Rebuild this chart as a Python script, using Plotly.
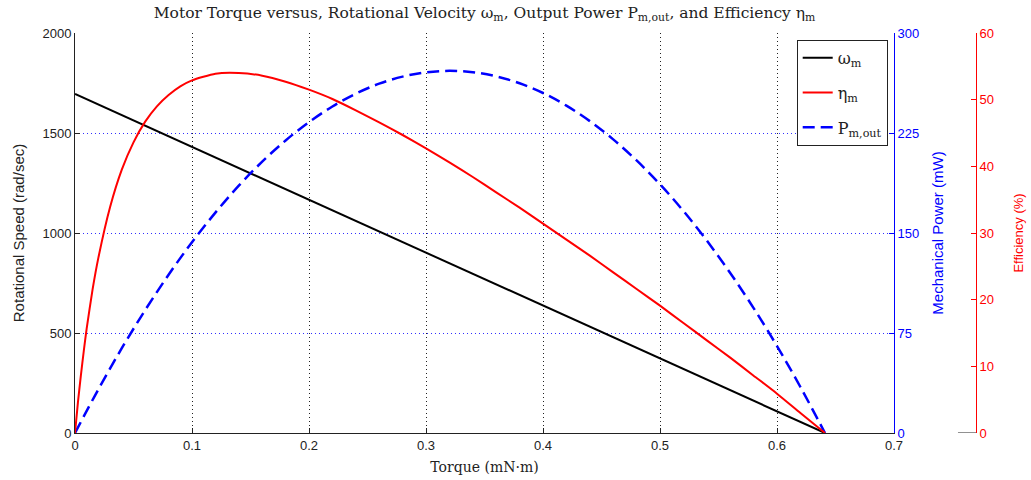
import plotly.graph_objects as go

# Motor characteristic curves versus shaft torque (mN·m)
speed_torque = [0.0, 0.641]
speed_rad_s = [1695, 0]

power_torque = [0.0, 0.02, 0.04, 0.06, 0.08, 0.10, 0.12, 0.14, 0.16, 0.18, 0.20,
                0.22, 0.24, 0.26, 0.28, 0.30, 0.32, 0.34, 0.36, 0.38, 0.40, 0.42,
                0.44, 0.46, 0.48, 0.50, 0.52, 0.54, 0.56, 0.58, 0.60, 0.62, 0.641]
power_mw = [0.0, 32.8, 63.6, 92.2, 118.7, 143.1, 165.3, 185.5, 203.5, 219.4, 233.2,
            244.9, 254.5, 262.0, 267.3, 270.5, 271.6, 270.6, 267.5, 262.3, 255.0, 245.5,
            233.9, 220.2, 204.4, 186.5, 166.5, 144.3, 120.0, 93.7, 65.2, 34.5, 0.0]

eff_torque = [0.0, 0.0025, 0.005, 0.0075, 0.01, 0.015, 0.02, 0.03, 0.04, 0.05, 0.06,
              0.07, 0.08, 0.09, 0.10, 0.12, 0.14, 0.16, 0.18, 0.20, 0.22, 0.24, 0.26,
              0.28, 0.30, 0.32, 0.34, 0.36, 0.38, 0.40, 0.42, 0.44, 0.46, 0.48, 0.50,
              0.52, 0.54, 0.56, 0.58, 0.60, 0.62, 0.641]
eff_pct = [0.0, 4.6, 8.6, 12.3, 15.7, 21.5, 26.3, 33.9, 39.5, 43.6, 46.7,
           49.0, 50.7, 52.0, 52.9, 53.9, 54.0, 53.6, 52.7, 51.5, 50.1, 48.4, 46.6,
           44.7, 42.7, 40.6, 38.4, 36.1, 33.8, 31.4, 29.0, 26.6, 24.1, 21.6, 19.1,
           16.5, 13.9, 11.3, 8.6, 5.9, 3.0, 0.0]

x_ticks = [0, 0.1, 0.2, 0.3, 0.4, 0.5, 0.6, 0.7]
speed_ticks = [0, 500, 1000, 1500, 2000]
power_ticks = [0, 75, 150, 225, 300]
eff_ticks = [0, 10, 20, 30, 40, 50, 60]

SERIF = "DejaVu Serif"
SANS = "Liberation Sans"
BLUE = "#0000ff"
RED = "#ff0000"

fig = go.Figure()
fig.add_trace(go.Scatter(x=speed_torque, y=speed_rad_s, mode="lines",
                         name="ω<sub>m</sub>", legendgroup="speed",
                         line=dict(color="black", width=2), yaxis="y"))
fig.add_trace(go.Scatter(x=eff_torque, y=eff_pct, mode="lines",
                         name="η<sub>m</sub>", legendgroup="eff",
                         line=dict(color=RED, width=2, shape="spline", smoothing=0.6),
                         yaxis="y3"))
fig.add_trace(go.Scatter(x=power_torque, y=power_mw, mode="lines",
                         name="P<sub>m,out</sub>", legendgroup="power",
                         line=dict(color=BLUE, width=2.5, dash="12px,6px", shape="spline"),
                         yaxis="y2"))

x_end = 0.909

fig.update_layout(
    width=1031, height=480,
    margin=dict(l=75, r=55, t=33, b=47, autoexpand=False),
    paper_bgcolor="white", plot_bgcolor="white",
    title=dict(
        text="Motor Torque versus, Rotational Velocity ω<sub>m</sub>, Output Power "
             "P<sub>m,out</sub>, and Efficiency η<sub>m</sub>",
        x=0.47, xanchor="center", y=0.985, yanchor="top",
        font=dict(family=SERIF, size=15.5, color="#222")),
    xaxis=dict(
        domain=[0, x_end], range=[0, 0.7], tickvals=x_ticks,
        ticktext=[f"{v:g}" for v in x_ticks], automargin=False,
        ticks="inside", ticklen=5, tickcolor="#222",
        showline=True, linecolor="#222", linewidth=1,
        showgrid=True, gridcolor="#222", griddash="1px,3px", gridwidth=1,
        zeroline=False,
        tickfont=dict(family=SANS, size=13, color="#222"),
        title=dict(text="Torque (mN·m)", standoff=10,
                   font=dict(family=SERIF, size=14, color="#222"))),
    yaxis=dict(
        range=[0, 2000], tickvals=speed_ticks, automargin=False,
        ticks="inside", ticklen=5, tickcolor="#222",
        showline=True, linecolor="#222", linewidth=1,
        showgrid=True, gridcolor="#3030ff", griddash="1px,3px", gridwidth=1,
        zeroline=False,
        tickfont=dict(family=SANS, size=13, color="#222"),
        title=dict(text="Rotational Speed (rad/sec)", standoff=14,
                   font=dict(family=SANS, size=15, color="#222"))),
    yaxis2=dict(
        range=[0, 300], tickvals=power_ticks, overlaying="y", side="right",
        anchor="x", automargin=False,
        ticks="inside", ticklen=5, tickcolor=BLUE,
        showline=True, linecolor=BLUE, linewidth=1,
        showgrid=False, zeroline=False,
        tickfont=dict(family=SANS, size=13, color=BLUE),
        title=dict(text="Mechanical Power (mW)", standoff=14,
                   font=dict(family=SANS, size=15, color=BLUE))),
    yaxis3=dict(
        range=[0, 60], tickvals=eff_ticks, overlaying="y", side="right",
        anchor="free", position=1.0, automargin=False,
        ticks="inside", ticklen=5, tickcolor=RED,
        showline=True, linecolor=RED, linewidth=1,
        showgrid=False, zeroline=False,
        tickfont=dict(family=SANS, size=13, color=RED),
        title=dict(text="Efficiency (%)", standoff=20,
                   font=dict(family=SANS, size=13, color=RED))),
    legend=dict(
        x=0.902, xanchor="right", y=0.983, yanchor="top",
        bgcolor="white", bordercolor="#222", borderwidth=1,
        font=dict(family=SERIF, size=16, color="#222"),
        tracegroupgap=11),
    showlegend=True,
)

# short base stroke at the foot of the efficiency axis
fig.add_shape(type="line", xref="paper", yref="y3", x0=0.98, x1=1.0, y0=0, y1=0,
              line=dict(color="#222", width=1))

fig.write_html("out.html")
